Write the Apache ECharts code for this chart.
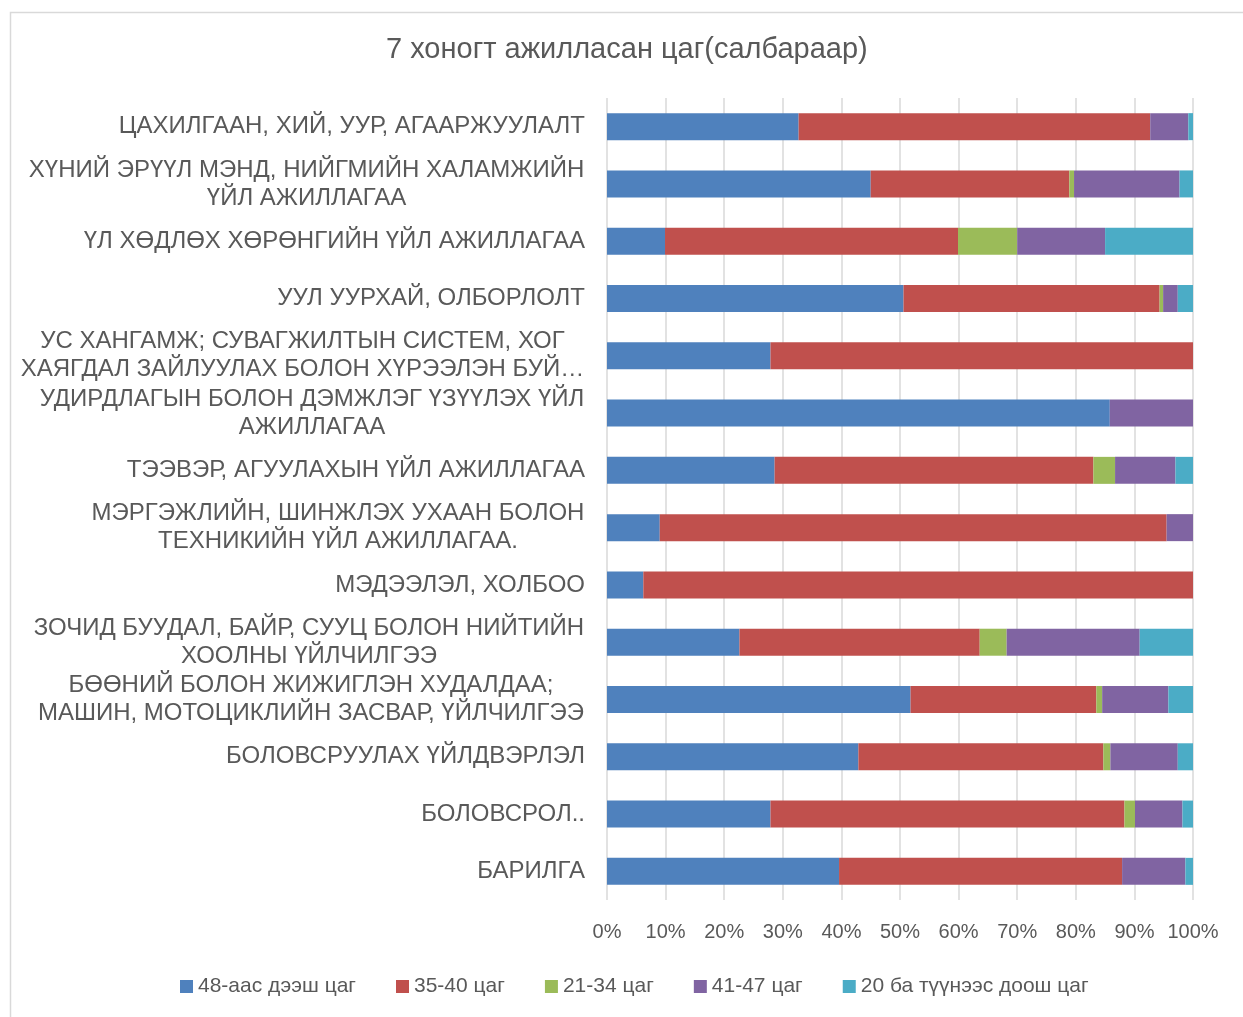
<!DOCTYPE html>
<html>
<head>
<meta charset="utf-8">
<script src="https://cdn.jsdelivr.net/npm/echarts@6/dist/echarts.min.js"></script>
<style>
html,body{margin:0;padding:0;background:#fff;}
#chart{width:1243px;height:1017px;}
</style>
</head>
<body>
<div id="chart"></div>
<script>
// Categories, top to bottom
var categories = [
  "ЦАХИЛГААН, ХИЙ, УУР, АГААРЖУУЛАЛТ",
  "ХҮНИЙ ЭРҮҮЛ МЭНД, НИЙГМИЙН ХАЛАМЖИЙН\nҮЙЛ АЖИЛЛАГАА",
  "ҮЛ ХӨДЛӨХ ХӨРӨНГИЙН ҮЙЛ АЖИЛЛАГАА",
  "УУЛ УУРХАЙ, ОЛБОРЛОЛТ",
  "УС ХАНГАМЖ; СУВАГЖИЛТЫН СИСТЕМ, ХОГ\nХАЯГДАЛ ЗАЙЛУУЛАХ БОЛОН ХҮРЭЭЛЭН БУЙ…",
  "УДИРДЛАГЫН БОЛОН ДЭМЖЛЭГ ҮЗҮҮЛЭХ ҮЙЛ\nАЖИЛЛАГАА",
  "ТЭЭВЭР, АГУУЛАХЫН ҮЙЛ АЖИЛЛАГАА",
  "МЭРГЭЖЛИЙН, ШИНЖЛЭХ УХААН БОЛОН\nТЕХНИКИЙН ҮЙЛ АЖИЛЛАГАА.",
  "МЭДЭЭЛЭЛ, ХОЛБОО",
  "ЗОЧИД БУУДАЛ, БАЙР, СУУЦ БОЛОН НИЙТИЙН\nХООЛНЫ ҮЙЛЧИЛГЭЭ",
  "БӨӨНИЙ БОЛОН ЖИЖИГЛЭН ХУДАЛДАА;\nМАШИН, МОТОЦИКЛИЙН ЗАСВАР, ҮЙЛЧИЛГЭЭ",
  "БОЛОВСРУУЛАХ ҮЙЛДВЭРЛЭЛ",
  "БОЛОВСРОЛ..",
  "БАРИЛГА"
];
var seriesNames = ["48-аас дээш цаг", "35-40 цаг", "21-34 цаг", "41-47 цаг", "20 ба түүнээс доош цаг"];
var s48plus = [32.7, 45.0,  9.9, 50.6, 27.9, 85.8, 28.6,  9.0,  6.2, 22.6, 51.8, 42.9, 27.9, 39.6];
var s35to40 = [60.0, 33.9, 50.0, 43.7, 72.1,  0.0, 54.4, 86.5, 93.8, 41.0, 31.7, 41.8, 60.4, 48.3];
var s21to34 = [ 0.0,  0.8, 10.1,  0.6,  0.0,  0.0,  3.7,  0.0,  0.0,  4.6,  1.0,  1.2,  1.8,  0.0];
var s41to47 = [ 6.5, 18.0, 15.0,  2.5,  0.0, 14.2, 10.3,  4.5,  0.0, 22.7, 11.3, 11.5,  8.1, 10.8];
var s20less = [ 0.8,  2.3, 15.0,  2.6,  0.0,  0.0,  3.0,  0.0,  0.0,  9.1,  4.2,  2.6,  1.8,  1.3];
var xTicks = ["0%","10%","20%","30%","40%","50%","60%","70%","80%","90%","100%"];
var colors = ["#4F81BD", "#C0504D", "#9BBB59", "#8064A2", "#4BACC6"];

var FF = '"Liberation Sans", Arial, sans-serif';
var LABEL_SIZE = 24;
var cv = document.createElement('canvas').getContext('2d');
cv.font = LABEL_SIZE + 'px ' + FF;
function measure(t){ return Math.ceil(cv.measureText(t).width) + 1; }

var richStyles = {};
var labelMap = {};
categories.forEach(function(c, i){
  var lines = c.split('\n');
  if (lines.length === 1) { labelMap[c] = c; return; }
  var w = Math.max.apply(null, lines.map(measure));
  var key = 'c' + i;
  richStyles[key] = { width: w, align: 'center', fontSize: LABEL_SIZE, lineHeight: 28, color: '#595959', fontFamily: FF };
  labelMap[c] = lines.map(function(l){ return '{' + key + '|' + l + '}'; }).join('\n');
});

var dataSets = [s48plus, s35to40, s21to34, s41to47, s20less];
var series = dataSets.map(function(d, i){
  return {
    name: seriesNames[i],
    type: 'bar',
    stack: 'total',
    barWidth: 27,
    data: d,
    itemStyle: { color: colors[i] }
  };
});

var chart = echarts.init(document.getElementById('chart'), null, { renderer: 'canvas' });
chart.setOption({
  backgroundColor: '#fff',
  animation: false,
  color: colors,
  title: {
    text: '7 хоногт ажилласан цаг(салбараар)',
    left: 381,
    top: 30,
    textStyle: { fontSize: 29, fontWeight: 'normal', color: '#595959', fontFamily: FF }
  },
  graphic: [{
    type: 'rect',
    shape: { x: 10.5, y: 12.5, width: 1260, height: 1040 },
    style: { fill: 'none', stroke: '#d9d9d9', lineWidth: 1.5 },
    silent: true
  }],
  legend: {
    bottom: 15,
    left: 175,
    itemWidth: 13,
    itemHeight: 13,
    itemGap: 40,
    icon: 'rect',
    textStyle: { fontSize: 21, color: '#595959', fontFamily: FF },
    data: seriesNames
  },
  grid: { left: 607, right: 50, top: 98, bottom: 117, containLabel: false },
  xAxis: {
    type: 'value',
    min: 0,
    max: 100,
    interval: 10,
    axisLine: { show: false },
    axisTick: { show: false },
    splitLine: { show: true, lineStyle: { color: '#d9d9d9', width: 1.5 } },
    axisLabel: {
      margin: 22,
      fontSize: 20,
      color: '#595959',
      fontFamily: FF,
      formatter: function(v){ return xTicks[Math.round(v / 10)]; }
    }
  },
  yAxis: {
    type: 'category',
    inverse: true,
    data: categories,
    axisLine: { show: false },
    axisTick: { show: false },
    axisLabel: {
      margin: 22,
      fontSize: LABEL_SIZE,
      lineHeight: 28,
      color: '#595959',
      fontFamily: FF,
      align: 'right',
      interval: 0,
      formatter: function(v){ return labelMap[v]; },
      rich: richStyles
    }
  },
  series: series
});
</script>
</body>
</html>
